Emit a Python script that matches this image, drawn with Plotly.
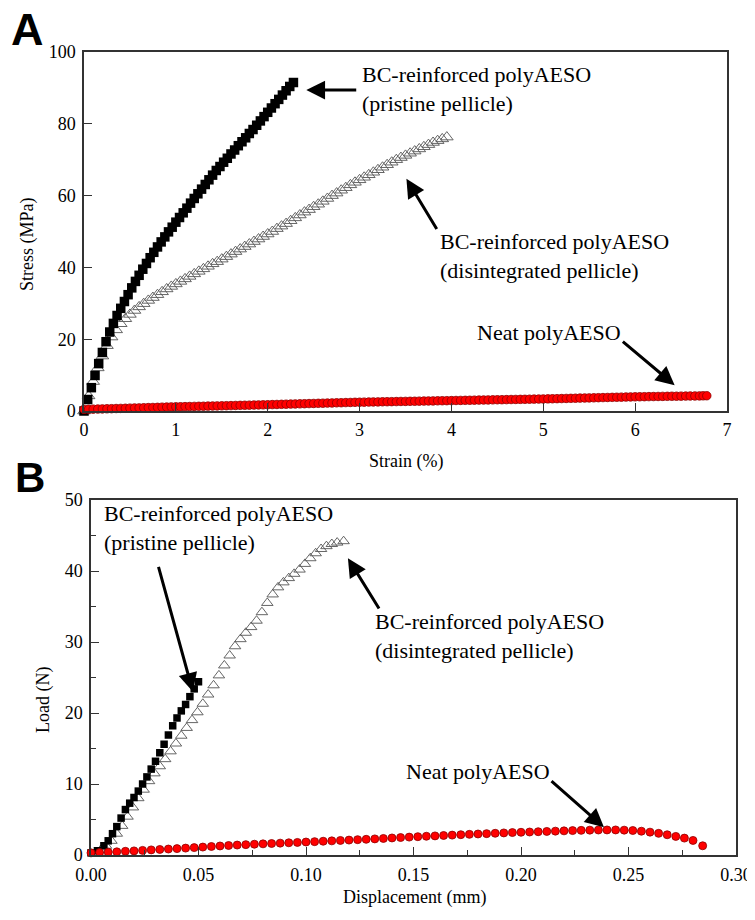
import plotly.graph_objects as go

# ---------------- Panel A: stress-strain ----------------
a_pristine_strain = [0.00, 0.04, 0.08, 0.12, 0.16, 0.20, 0.24, 0.28, 0.32, 0.36, 0.40, 0.44, 0.48, 0.52,
                     0.56, 0.60, 0.64, 0.68, 0.72, 0.76, 0.80, 0.84, 0.88, 0.92, 0.96, 1.00, 1.04, 1.08,
                     1.12, 1.16, 1.20, 1.24, 1.28, 1.32, 1.36, 1.40, 1.44, 1.48, 1.52, 1.56, 1.60, 1.64,
                     1.68, 1.72, 1.76, 1.80, 1.84, 1.88, 1.92, 1.96, 2.00, 2.04, 2.08, 2.12, 2.16, 2.20,
                     2.24, 2.28]
a_pristine_stress = [0.0, 3.2, 6.5, 9.9, 13.2, 16.3, 19.3, 22.0, 24.4, 26.6, 28.6, 30.5, 32.4, 34.3,
                     36.1, 37.8, 39.5, 41.1, 42.7, 44.2, 45.7, 47.1, 48.5, 49.9, 51.2, 52.6, 53.9, 55.2,
                     56.5, 57.9, 59.2, 60.5, 61.8, 63.1, 64.4, 65.7, 67.0, 68.1, 69.3, 70.4, 71.6, 72.7,
                     73.9, 75.0, 76.1, 77.3, 78.4, 79.6, 80.8, 82.0, 83.2, 84.4, 85.6, 86.8, 88.0, 89.2,
                     90.4, 91.5]

a_disint_strain = [0.00, 0.05, 0.10, 0.15, 0.20, 0.25, 0.30, 0.35, 0.40, 0.45, 0.50, 0.55, 0.60, 0.65,
                   0.70, 0.75, 0.80, 0.85, 0.90, 0.95, 1.00, 1.05, 1.10, 1.15, 1.20, 1.25, 1.30, 1.35,
                   1.40, 1.45, 1.50, 1.55, 1.60, 1.65, 1.70, 1.75, 1.80, 1.85, 1.90, 1.95, 2.00, 2.05,
                   2.10, 2.15, 2.20, 2.25, 2.30, 2.35, 2.40, 2.45, 2.50, 2.55, 2.60, 2.65, 2.70, 2.75,
                   2.80, 2.85, 2.90, 2.95, 3.00, 3.05, 3.10, 3.15, 3.20, 3.25, 3.30, 3.35, 3.40, 3.45,
                   3.50, 3.55, 3.60, 3.65, 3.70, 3.75, 3.80, 3.85, 3.90, 3.95]
a_disint_stress = [0.0, 4.2, 8.2, 12.0, 15.3, 18.2, 20.6, 22.6, 24.3, 25.7, 26.9, 28.0, 29.0, 29.9,
                   30.8, 31.6, 32.4, 33.2, 34.0, 34.7, 35.4, 36.1, 36.8, 37.5, 38.2, 38.9, 39.6, 40.3,
                   41.0, 41.6, 42.3, 43.0, 43.7, 44.4, 45.1, 45.8, 46.5, 47.2, 47.9, 48.6, 49.3, 50.0,
                   50.8, 51.5, 52.2, 53.0, 53.8, 54.6, 55.4, 56.1, 56.9, 57.6, 58.4, 59.2, 60.0, 60.7,
                   61.5, 62.2, 63.0, 63.7, 64.4, 65.1, 65.8, 66.5, 67.2, 67.9, 68.6, 69.3, 70.0, 70.6,
                   71.2, 71.8, 72.4, 73.0, 73.6, 74.2, 74.8, 75.3, 75.8, 76.3]

a_neat_strain = [0.0, 0.05, 0.1, 0.15, 0.2, 0.25, 0.3, 0.35, 0.4, 0.45, 0.5, 0.55, 0.6, 0.65, 0.7, 0.75,
                 0.8, 0.85, 0.9, 0.95, 1.0, 1.05, 1.1, 1.15, 1.2, 1.25, 1.3, 1.35, 1.4, 1.45, 1.5, 1.55,
                 1.6, 1.65, 1.7, 1.75, 1.8, 1.85, 1.9, 1.95, 2.0, 2.05, 2.1, 2.15, 2.2, 2.25, 2.3, 2.35,
                 2.4, 2.45, 2.5, 2.55, 2.6, 2.65, 2.7, 2.75, 2.8, 2.85, 2.9, 2.95, 3.0, 3.05, 3.1, 3.15,
                 3.2, 3.25, 3.3, 3.35, 3.4, 3.45, 3.5, 3.55, 3.6, 3.65, 3.7, 3.75, 3.8, 3.85, 3.9, 3.95,
                 4.0, 4.05, 4.1, 4.15, 4.2, 4.25, 4.3, 4.35, 4.4, 4.45, 4.5, 4.55, 4.6, 4.65, 4.7, 4.75,
                 4.8, 4.85, 4.9, 4.95, 5.0, 5.05, 5.1, 5.15, 5.2, 5.25, 5.3, 5.35, 5.4, 5.45, 5.5, 5.55,
                 5.6, 5.65, 5.7, 5.75, 5.8, 5.85, 5.9, 5.95, 6.0, 6.05, 6.1, 6.15, 6.2, 6.25, 6.3, 6.35,
                 6.4, 6.45, 6.5, 6.55, 6.6, 6.65, 6.7, 6.74, 6.78]
a_neat_stress = [0.45, 0.48, 0.52, 0.55, 0.58, 0.62, 0.65, 0.69, 0.72, 0.76, 0.80, 0.84, 0.87, 0.91,
                 0.95, 0.98, 1.02, 1.06, 1.10, 1.14, 1.17, 1.19, 1.22, 1.25, 1.28, 1.31, 1.33, 1.36,
                 1.39, 1.42, 1.45, 1.48, 1.51, 1.54, 1.57, 1.60, 1.63, 1.66, 1.69, 1.72, 1.75, 1.79,
                 1.82, 1.86, 1.89, 1.93, 1.96, 2.00, 2.03, 2.07, 2.10, 2.14, 2.17, 2.21, 2.24, 2.28,
                 2.31, 2.35, 2.38, 2.42, 2.45, 2.47, 2.50, 2.52, 2.54, 2.57, 2.59, 2.61, 2.63, 2.66,
                 2.68, 2.70, 2.72, 2.75, 2.77, 2.79, 2.81, 2.84, 2.86, 2.88, 2.90, 2.93, 2.95, 2.97,
                 2.99, 3.02, 3.04, 3.06, 3.08, 3.11, 3.13, 3.15, 3.17, 3.20, 3.22, 3.24, 3.26, 3.29,
                 3.31, 3.33, 3.35, 3.38, 3.41, 3.44, 3.47, 3.50, 3.53, 3.56, 3.59, 3.62, 3.65, 3.68,
                 3.71, 3.74, 3.77, 3.80, 3.83, 3.86, 3.89, 3.92, 3.95, 3.97, 3.99, 4.01, 4.03, 4.05,
                 4.07, 4.09, 4.11, 4.12, 4.14, 4.16, 4.18, 4.19, 4.21, 4.23, 4.25]

# ---------------- Panel B: load-displacement ----------------
b_pristine_disp = [0.000, 0.003, 0.006, 0.008, 0.010, 0.012, 0.014, 0.016, 0.018, 0.020, 0.022, 0.024,
                   0.026, 0.028, 0.030, 0.032, 0.034, 0.036, 0.038, 0.040, 0.042, 0.044, 0.046, 0.048,
                   0.050]
b_pristine_load = [0.3, 0.6, 1.3, 2.0, 3.0, 4.0, 5.2, 6.4, 7.3, 8.1, 9.0, 10.0, 11.0, 12.1, 13.2, 14.4,
                   15.6, 16.9, 18.2, 19.3, 20.3, 21.2, 22.3, 23.4, 24.4]

b_disint_disp = [0.0020, 0.0045, 0.0070, 0.0095, 0.0120, 0.0145, 0.0170, 0.0195, 0.0220, 0.0245,
                 0.0270, 0.0295, 0.0320, 0.0345, 0.0370, 0.0395, 0.0420, 0.0445, 0.0470, 0.0495,
                 0.0520, 0.0545, 0.0570, 0.0595, 0.0620, 0.0645, 0.0670, 0.0695, 0.0720, 0.0745,
                 0.0770, 0.0795, 0.0820, 0.0845, 0.0870, 0.0895, 0.0920, 0.0945, 0.0970, 0.0995,
                 0.1020, 0.1045, 0.1070, 0.1095, 0.1120, 0.1145, 0.1175]
b_disint_load = [0.3, 0.7, 1.3, 2.0, 3.0, 4.1, 5.4, 6.7, 8.0, 9.2, 10.4, 11.5, 12.5, 13.5, 14.6, 15.7,
                 16.8, 17.9, 19.0, 20.1, 21.3, 22.6, 23.9, 25.3, 26.7, 28.1, 29.4, 30.4, 31.3, 32.1,
                 33.0, 34.2, 35.5, 36.7, 37.7, 38.4, 39.0, 39.6, 40.2, 41.0, 41.8, 42.5, 43.1, 43.5,
                 43.8, 44.0, 44.2]

b_neat_disp = [0.000, 0.004, 0.008, 0.012, 0.016, 0.020, 0.024, 0.028, 0.032, 0.036, 0.040, 0.044,
               0.048, 0.052, 0.056, 0.060, 0.064, 0.068, 0.072, 0.076, 0.080, 0.084, 0.088, 0.092,
               0.096, 0.100, 0.104, 0.108, 0.112, 0.116, 0.120, 0.124, 0.128, 0.132, 0.136, 0.140,
               0.144, 0.148, 0.152, 0.156, 0.160, 0.164, 0.168, 0.172, 0.176, 0.180, 0.184, 0.188,
               0.192, 0.196, 0.200, 0.204, 0.208, 0.212, 0.216, 0.220, 0.224, 0.228, 0.232, 0.236,
               0.240, 0.244, 0.248, 0.252, 0.256, 0.260, 0.264, 0.268, 0.272, 0.276, 0.280, 0.2845]
b_neat_load = [0.30, 0.35, 0.40, 0.45, 0.52, 0.58, 0.65, 0.72, 0.78, 0.84, 0.90, 0.97, 1.04, 1.12,
               1.20, 1.27, 1.34, 1.40, 1.46, 1.52, 1.57, 1.62, 1.67, 1.72, 1.77, 1.83, 1.88, 1.94,
               1.99, 2.05, 2.10, 2.16, 2.21, 2.27, 2.33, 2.40, 2.46, 2.52, 2.58, 2.64, 2.69, 2.75,
               2.80, 2.86, 2.91, 2.96, 3.01, 3.06, 3.11, 3.16, 3.20, 3.24, 3.28, 3.32, 3.36, 3.40,
               3.44, 3.47, 3.50, 3.52, 3.53, 3.53, 3.50, 3.45, 3.35, 3.22, 3.05, 2.85, 2.62, 2.38,
               2.05, 1.30]

label_pristine = "BC-reinforced polyAESO<br>(pristine pellicle)"
label_disint = "BC-reinforced polyAESO<br>(disintegrated pellicle)"
label_neat = "Neat polyAESO"

SERIF = "Liberation Serif"
W, H = 755, 920
OFF = 8  # page body margin in the screenshot


def px(x):
    return (x - OFF) / W


def py(y):
    return 1 - (y - OFF) / H


fig = go.Figure()


def add_series(x, y, xa, ya, kind, size):
    if kind == "tri":
        marker = dict(symbol="triangle-up-open", size=size, color="#555555", line=dict(width=0.9, color="#555555"))
    elif kind == "sq":
        marker = dict(symbol="square", size=size, color="black", line=dict(width=0))
    else:
        marker = dict(symbol="circle", size=size, color="#ff0000", line=dict(width=0.8, color="#8b0000"))
    fig.add_trace(go.Scatter(x=x, y=y, mode="markers", marker=marker, xaxis=xa, yaxis=ya,
                             cliponaxis=False, showlegend=False, hoverinfo="skip"))


add_series(a_disint_strain, a_disint_stress, "x", "y", "tri", 11)
add_series(a_pristine_strain, a_pristine_stress, "x", "y", "sq", 9.5)
add_series(a_neat_strain, a_neat_stress, "x", "y", "circ", 8.5)

add_series(b_disint_disp, b_disint_load, "x2", "y2", "tri", 10)
add_series(b_pristine_disp, b_pristine_load, "x2", "y2", "sq", 7.5)
add_series(b_neat_disp, b_neat_load, "x2", "y2", "circ", 8)

axis_common = dict(showgrid=False, zeroline=False, showline=True, mirror=True, automargin=False,
                   linecolor="#333333", linewidth=1.5, ticks="inside", ticklen=8, tickwidth=1.3,
                   tickcolor="#333333", tickfont=dict(family=SERIF, size=18, color="black"))

fig.update_layout(
    width=W, height=H, margin=dict(l=0, r=0, t=0, b=0, autoexpand=False),
    paper_bgcolor="white", plot_bgcolor="white",
    font=dict(family=SERIF, color="black"),
    xaxis=dict(domain=[px(84), px(727)], range=[0, 7], dtick=1, anchor="y", ticklabelstandoff=2,
               **axis_common),
    yaxis=dict(domain=[py(411), py(52)], range=[0, 100], dtick=20, anchor="x", ticklabelstandoff=3,
               **axis_common),
    xaxis2=dict(domain=[px(91), px(736)], range=[0, 0.3], dtick=0.05, tickformat=".2f", anchor="y2",
                ticklabelstandoff=3,
                minor=dict(dtick=0.025, ticks="inside", ticklen=5, tickcolor="#333333"), **axis_common),
    yaxis2=dict(domain=[py(855), py(500)], range=[0, 50], dtick=10, anchor="x2", ticklabelstandoff=3,
                minor=dict(dtick=5, ticks="inside", ticklen=5, tickcolor="#333333"), **axis_common),
)

annotations = []


def text_ann(text, x, y, xr, yr, xanchor="left"):
    annotations.append(dict(text=text, x=x, y=y, xref=xr, yref=yr, showarrow=False,
                            xanchor=xanchor, yanchor="middle", align="left",
                            font=dict(family=SERIF, size=22, color="black")))


def arrow_ann(x, y, ax, ay, xr, yr):
    annotations.append(dict(text="", x=x, y=y, ax=ax, ay=ay, xref=xr, yref=yr, axref=xr, ayref=yr,
                            showarrow=True, arrowhead=2, arrowsize=1.25, arrowwidth=3,
                            arrowcolor="black", standoff=0, startstandoff=0))


# Panel A labels and arrows
text_ann(label_pristine, 3.01, 89.6, "x", "y")
arrow_ann(2.42, 89.4, 2.98, 89.4, "x", "y")
text_ann(label_disint, 3.85, 43.2, "x", "y")
arrow_ann(3.51, 64.7, 3.85, 50.3, "x", "y")
text_ann(label_neat, 5.06, 21.9, "x", "y", xanchor="center")
arrow_ann(6.43, 7.2, 5.85, 19.7, "x", "y")

# Panel B labels and arrows
text_ann(label_pristine, 0.0051, 46.0, "x2", "y2")
arrow_ann(0.0474, 23.0, 0.0312, 40.8, "x2", "y2")
text_ann(label_disint, 0.1312, 30.9, "x2", "y2")
arrow_ann(0.1195, 41.8, 0.1344, 34.5, "x2", "y2")
text_ann(label_neat, 0.1798, 11.7, "x2", "y2", xanchor="center")
arrow_ann(0.2386, 3.9, 0.2135, 10.6, "x2", "y2")

# Axis titles
title_font = dict(family=SERIF, size=18, color="black")
annotations.append(dict(text="Stress (MPa)", x=px(27), y=py(244), xref="paper", yref="paper",
                        textangle=-90, showarrow=False, font=title_font, xanchor="center", yanchor="middle"))
annotations.append(dict(text="Strain (%)", x=px(406), y=py(462), xref="paper", yref="paper",
                        showarrow=False, font=title_font, xanchor="center", yanchor="middle"))
annotations.append(dict(text="Load (N)", x=px(43), y=py(700), xref="paper", yref="paper",
                        textangle=-90, showarrow=False, font=title_font, xanchor="center", yanchor="middle"))
annotations.append(dict(text="Displacement (mm)", x=px(414), y=py(897), xref="paper", yref="paper",
                        showarrow=False, font=title_font, xanchor="center", yanchor="middle"))

# Panel letters
annotations.append(dict(text="<b>A</b>", x=px(27), y=py(29), xref="paper", yref="paper",
                        showarrow=False, font=dict(family="Liberation Sans", size=45, color="black"),
                        xanchor="center", yanchor="middle"))
annotations.append(dict(text="<b>B</b>", x=px(30), y=py(477), xref="paper", yref="paper",
                        showarrow=False, font=dict(family="Liberation Sans", size=42, color="black"),
                        xanchor="center", yanchor="middle"))

fig.update_layout(annotations=annotations)

fig.write_html("out.html")
